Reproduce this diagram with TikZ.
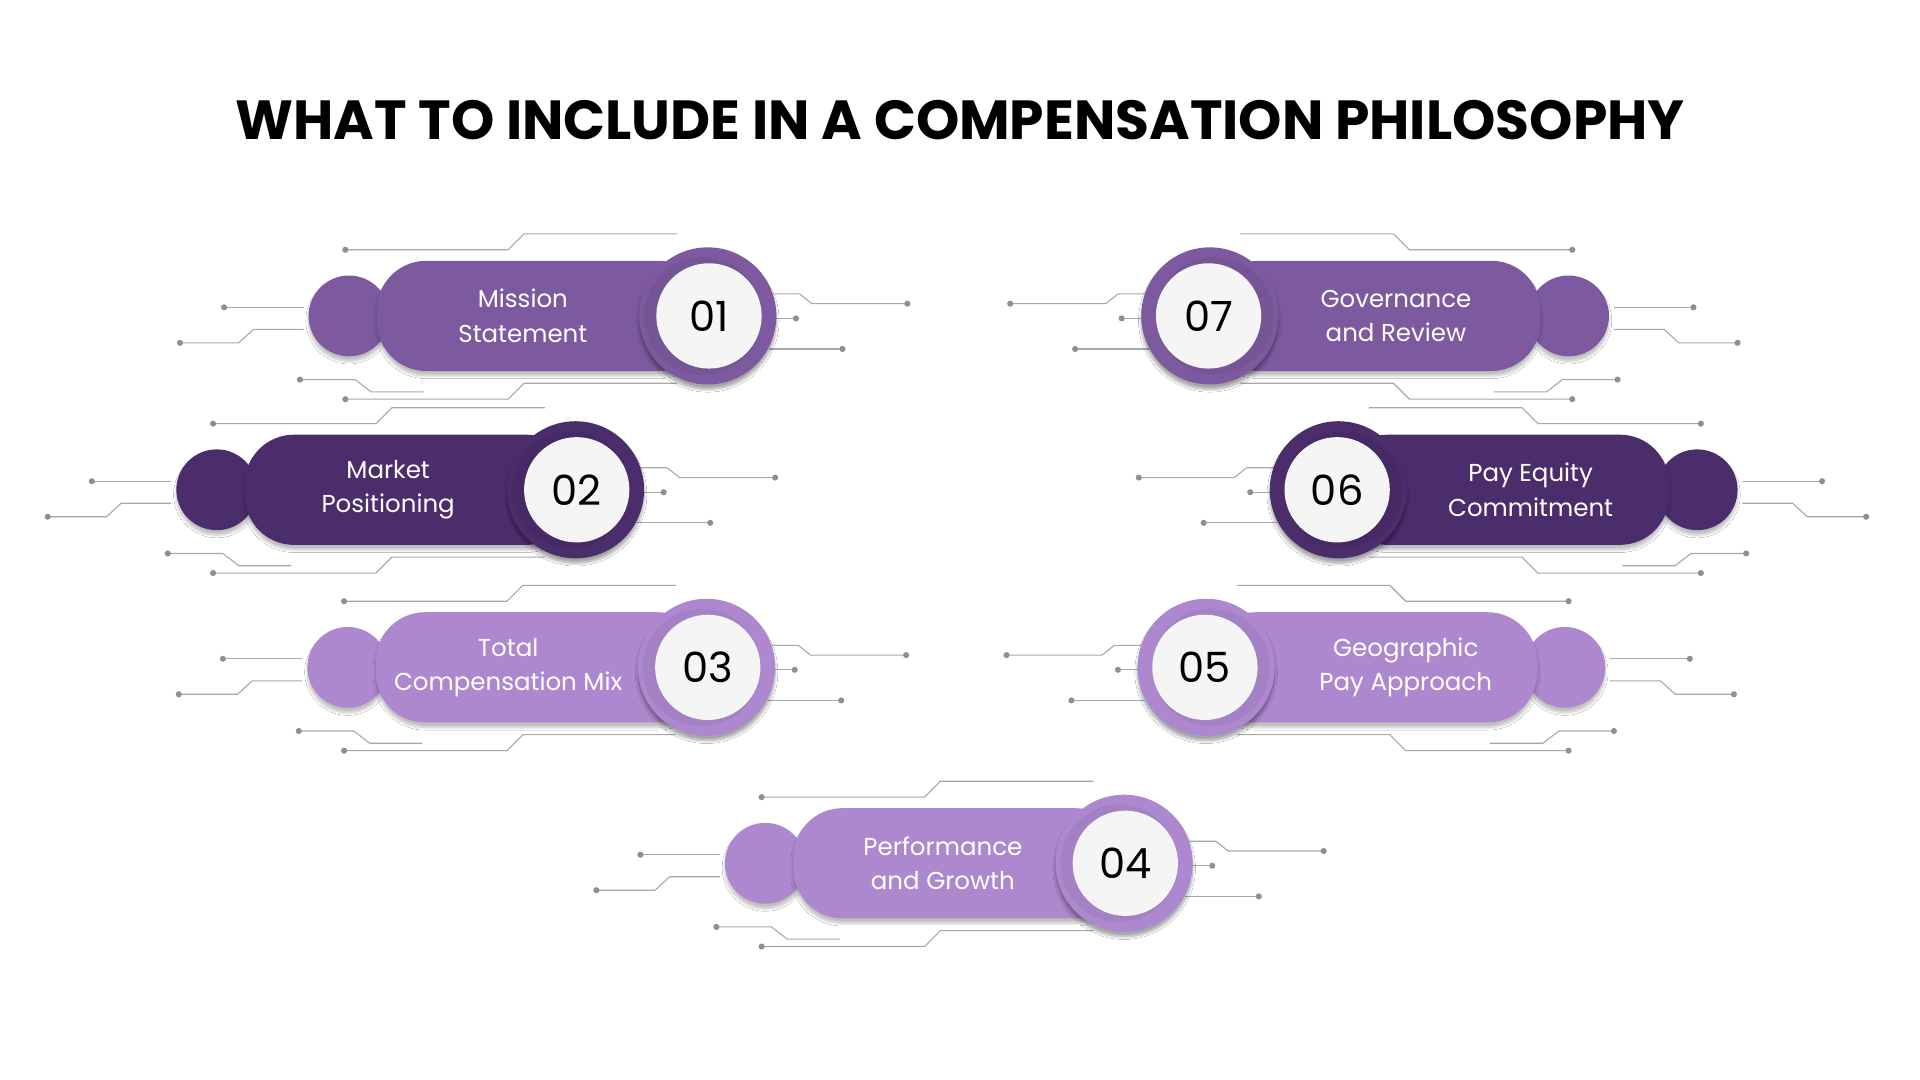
\documentclass[tikz,border=0pt]{standalone}
\usepackage{fontspec}
\setmainfont{Poppins}
\usetikzlibrary{shadows.blur}
\definecolor{cmid}{HTML}{7D5A9F}
\definecolor{cdark}{HTML}{4B2D6B}
\definecolor{clight}{HTML}{AD88CF}
\definecolor{cline}{HTML}{A8A8A8}
\tikzset{
  trace/.style={draw=cline,line width=0.9pt},
  tdot/.style={fill=cline!85!black,circle,inner sep=0pt,minimum size=5pt},
  lbl/.style={text=white,align=center,font=\fontsize{20}{28}\selectfont},
  num/.style={font=\fontsize{34}{34}\selectfont,text=black},
  ttl/.style={font=\fontsize{45}{50}\selectfont\bfseries},
}
% traces around a pill; #1 = ring centre x, #2 = y, #3 = xscale (1 left pill, -1 right pill)
\newcommand{\pilltraces}[3]{%
 \begin{scope}[shift={(#1,#2)},xscale=#3]
  \draw[trace] (-296,-54)--(-163,-54)--(-150,-67)--(-25,-67); \node[tdot] at (-296,-54){};
  \draw[trace] (-395,-7)--(-330,-7); \node[tdot] at (-395,-7){};
  \draw[trace] (-431,22)--(-383,22)--(-371,11)--(-330,11); \node[tdot] at (-431,22){};
  \draw[trace] (-333,52)--(-288,52)--(-275,62)--(-232,62); \node[tdot] at (-333,52){};
  \draw[trace] (-296,68)--(-163,68)--(-150,55)--(-25,55); \node[tdot] at (-296,68){};
  \draw[trace] (50,-18)--(75,-18)--(85,-10)--(163,-10); \node[tdot] at (163,-10){};
  \draw[trace] (50,2)--(72,2); \node[tdot] at (72,2){};
  \draw[trace] (50,27)--(110,27); \node[tdot] at (110,27){};
 \end{scope}}
% pill: #1 name, #2 ring x, #3 y, #4 dir (1 ring at right, -1 ring at left), #5 colour, #6 number, #7 text, #8 text x
\newcommand{\pill}[8]{%
 \begin{scope}[shift={(#2,#3)}]
  \fill[#5,blur shadow={shadow xshift=0pt,shadow yshift=-4pt,shadow blur steps=8,shadow opacity=25}] ({-#4*293},0) circle (33);
  \fill[#5,rounded corners=40pt,blur shadow={shadow xshift=0pt,shadow yshift=-4pt,shadow blur steps=8,shadow opacity=25}] ({-#4*270},-45) rectangle (0,45);
  \fill[#5,blur shadow={shadow xshift=0pt,shadow yshift=-4pt,shadow blur steps=10,shadow opacity=35}] (0,0) circle (56);
  \fill[#5!85!black,opacity=0.35] ({-#4*4},0) circle (48);
  \node[circle,fill=white!96!black,minimum size=86pt,inner sep=0pt,num] (#1n) at ({#4*1},0) {#6};
 \end{scope}
 \node[lbl] (#1t) at (#8,#3) {#7};}
\begin{document}
\begin{tikzpicture}[x=1pt,y=-1pt]
\useasboundingbox (0,0) rectangle (1568,882);
\fill[white] (0,0) rectangle (1568,882);
\node[ttl] (title) at (784,98) {WHAT TO INCLUDE IN A COMPENSATION PHILOSOPHY};
\pilltraces{578}{258}{1}
\pilltraces{470}{400}{1}
\pilltraces{577}{545}{1}
\pilltraces{918}{705}{1}
\pilltraces{988}{258}{-1}
\pilltraces{1093}{400}{-1}
\pilltraces{985}{545}{-1}
\pill{p1}{578}{258}{1}{cmid}{01}{Mission\\Statement}{427}
\pill{p2}{470}{400}{1}{cdark}{02}{Market\\Positioning}{317}
\pill{p3}{577}{545}{1}{clight}{03}{Total\\Compensation Mix}{415}
\pill{p4}{918}{705}{1}{clight}{04}{Performance\\and Growth}{770}
\pill{p7}{988}{258}{-1}{cmid}{07}{Governance\\and Review}{1140}
\pill{p6}{1093}{400}{-1}{cdark}{06}{Pay Equity\\Commitment}{1250}
\pill{p5}{985}{545}{-1}{clight}{05}{Geographic\\Pay Approach}{1148}
\end{tikzpicture}
\end{document}
